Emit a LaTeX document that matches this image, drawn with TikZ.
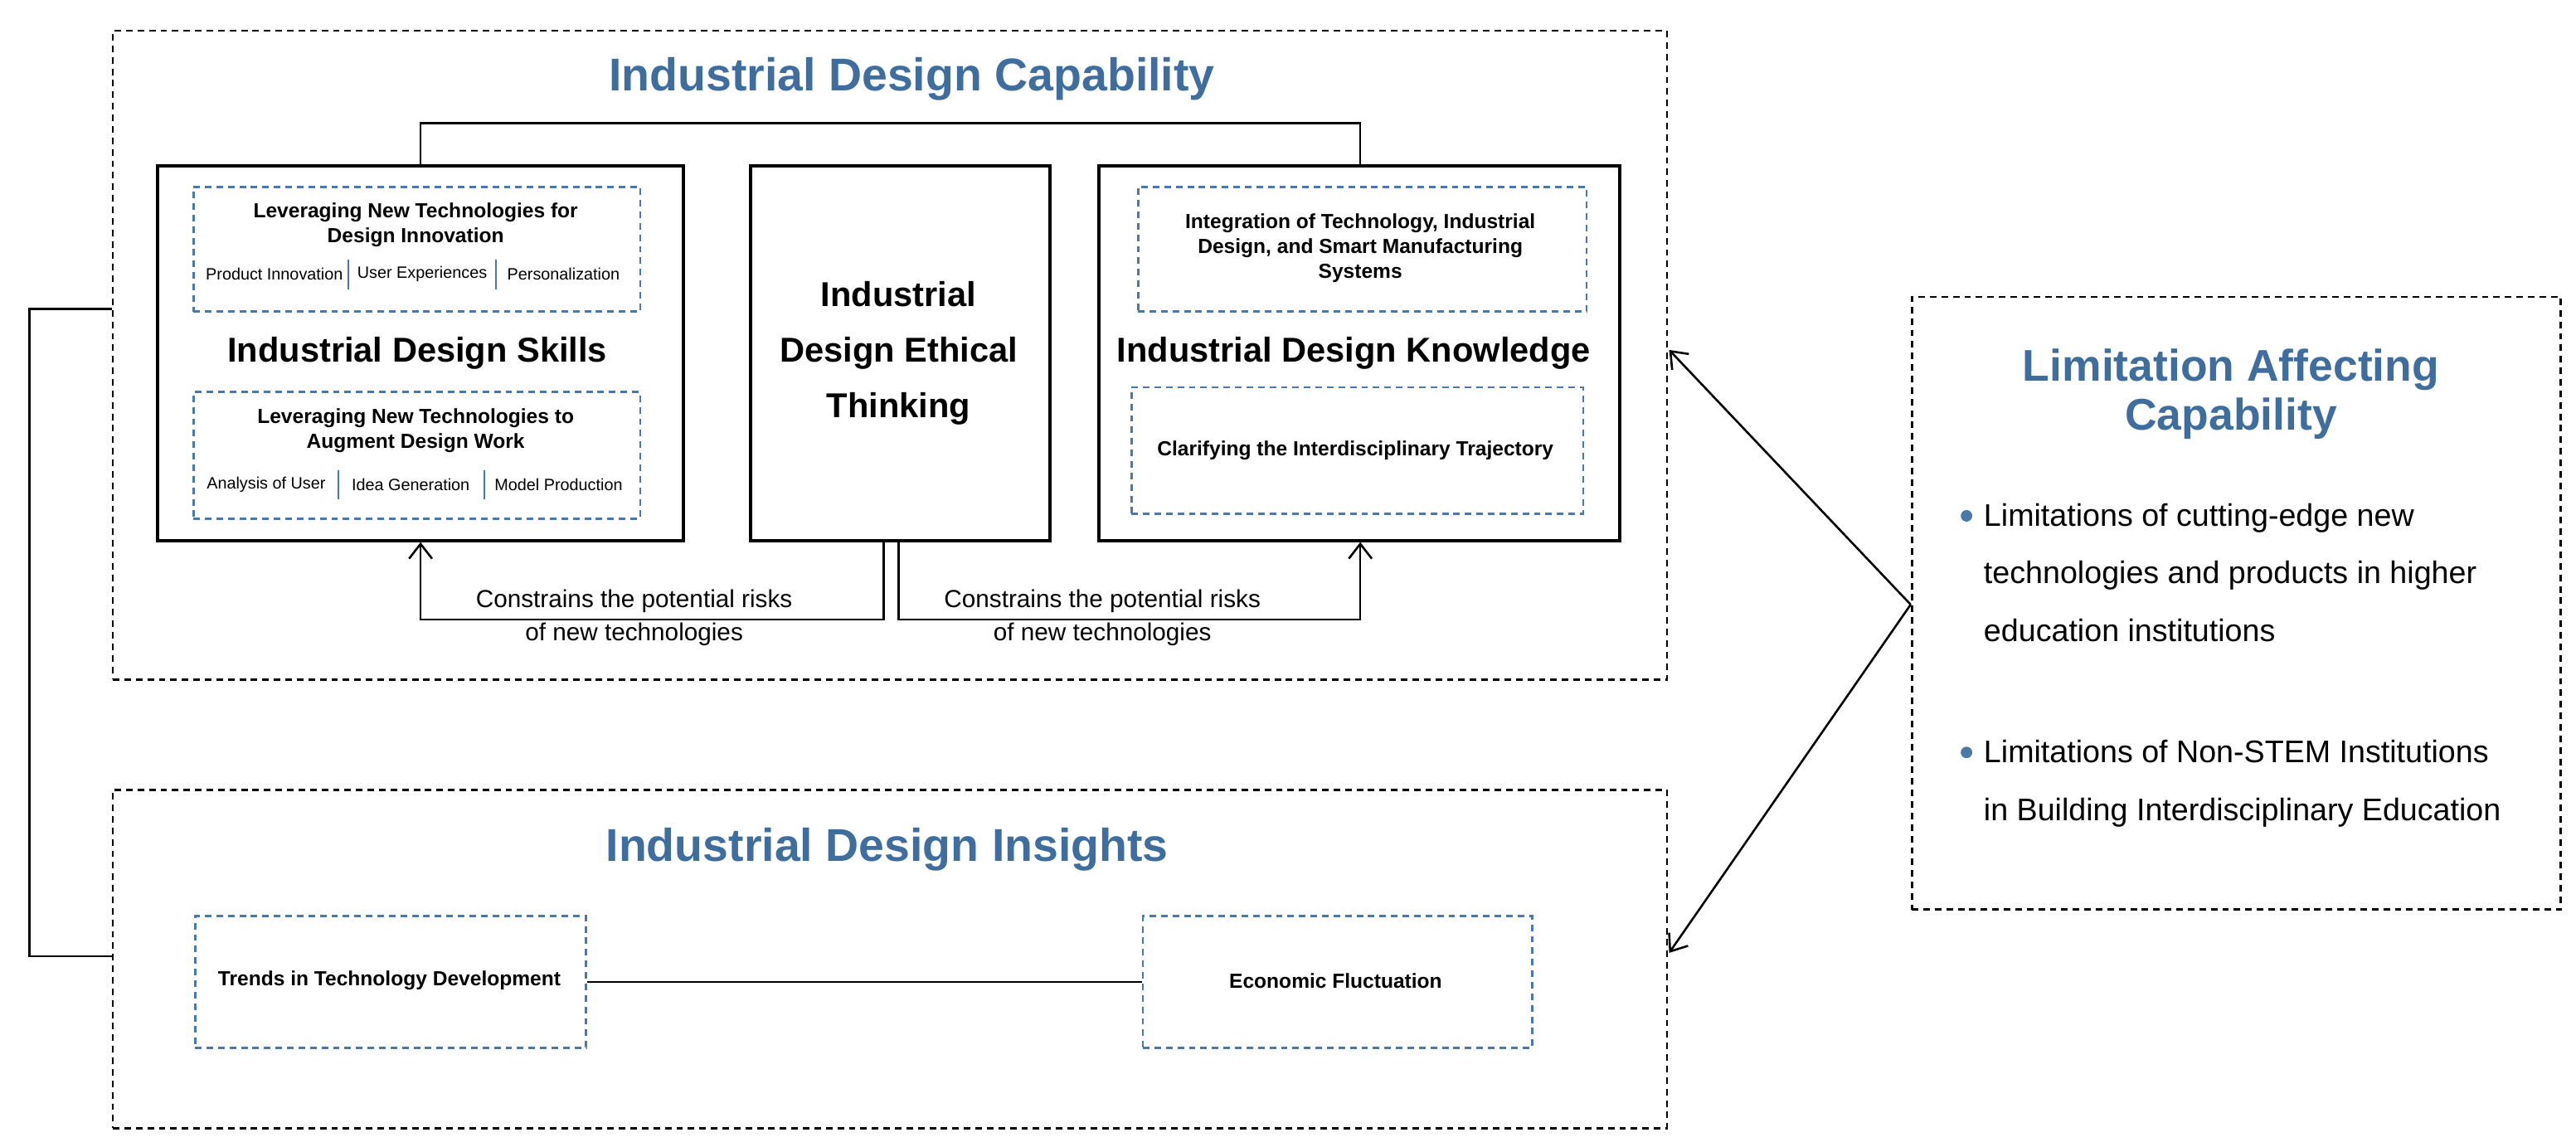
\documentclass[tikz,border=0pt]{standalone}
\usepackage{fontspec}
\setmainfont{Liberation Sans}
\usetikzlibrary{arrows.meta}
\definecolor{tblue}{HTML}{3F6E9E}
\definecolor{dblue}{HTML}{4A78A8}
\begin{document}
\begin{tikzpicture}[x=1pt,y=-1pt,
 outer/.style={draw=black,line width=1.4pt,dash pattern=on 4pt off 3pt},
 solidbox/.style={draw=black,line width=2pt},
 inner/.style={draw=dblue,line width=1.4pt,dash pattern=on 4pt off 3pt},
 ttl/.style={text=tblue,font=\fontsize{28}{30}\selectfont\bfseries,align=center},
 btl/.style={font=\fontsize{21}{34}\selectfont\bfseries,align=center},
 hdr/.style={font=\fontsize{12.4}{15}\selectfont\bfseries,align=center},
 sub/.style={font=\fontsize{10}{12}\selectfont},
 lbl/.style={font=\fontsize{15}{20}\selectfont,align=center},
 con/.style={line width=1.3pt},
 arr/.style={line width=1.3pt,-{Straight Barb[length=9pt,width=14pt]}},
 bul/.style={font=\fontsize{19}{35}\selectfont,align=left,anchor=north west}]
\useasboundingbox (0,0) rectangle (1568,698);
% outer boxes
\node[outer,minimum width=946pt,minimum height=395pt,anchor=north west] (cap) at (68,18) {};
\node[outer,minimum width=946pt,minimum height=206pt,anchor=north west] (ins) at (68,480) {};
\node[outer,minimum width=395pt,minimum height=373pt,anchor=north west] (lim) at (1163,180) {};
\node[ttl] (capt) at (555,48) {Industrial Design Capability};
\node[ttl] (inst) at (540,517) {Industrial Design Insights};
\node[ttl,font=\fontsize{27}{30}\selectfont\bfseries] (limt) at (1358,240) {Limitation Affecting\\Capability};
% three main boxes
\node[solidbox,minimum width=320pt,minimum height=228pt,anchor=north west] (skl) at (95,100) {};
\node[solidbox,minimum width=182pt,minimum height=228pt,anchor=north west] (eth) at (456,100) {};
\node[solidbox,minimum width=317pt,minimum height=228pt,anchor=north west] (kno) at (668,100) {};
\node[btl] at (254,215) {Industrial Design Skills};
\node[btl] at (547,215) {Industrial\\Design Ethical\\Thinking};
\node[btl] at (824,215) {Industrial Design Knowledge};
% inner dashed boxes
\node[inner,minimum width=272pt,minimum height=76pt,anchor=north west] (s1) at (117,113) {};
\node[hdr] at (253,137) {Leveraging New Technologies for\\Design Innovation};
\node[sub] at (167,167) {Product Innovation};
\node[sub] at (257,167) {User Experiences};
\node[sub] at (343,167) {Personalization};
\draw[dblue,line width=1pt] (212,158) -- (212,176) (302,158) -- (302,176);
\node[inner,minimum width=272pt,minimum height=77pt,anchor=north west] (s2) at (117,238) {};
\node[hdr] at (253,262) {Leveraging New Technologies to\\Augment Design Work};
\node[sub] at (162,295) {Analysis of User};
\node[sub] at (250,295) {Idea Generation};
\node[sub] at (340,295) {Model Production};
\draw[dblue,line width=1pt] (206,286) -- (206,304) (295,286) -- (295,304);
\node[inner,minimum width=273pt,minimum height=76pt,anchor=north west] (k1) at (692,113) {};
\node[hdr] at (828,151) {Integration of Technology, Industrial\\Design, and Smart Manufacturing\\Systems};
\node[inner,minimum width=275pt,minimum height=77pt,anchor=north west] (k2) at (688,235) {};
\node[hdr] at (825,274) {Clarifying the Interdisciplinary Trajectory};
% bracket
\draw[con] (256,100) -- (256,75) -- (828,75) -- (828,100);
% constraint arrows
\draw[arr] (538,328) -- (538,377) -- (256,377) -- (256,330);
\draw[arr] (547,328) -- (547,377) -- (828,377) -- (828,330);
\node[lbl] at (386,376) {Constrains the potential risks\\of new technologies};
\node[lbl] at (671,376) {Constrains the potential risks\\of new technologies};
% insights
\node[inner,minimum width=238pt,minimum height=80pt,anchor=north west] (t1) at (118,557) {};
\node[hdr] at (237,597) {Trends in Technology Development};
\node[inner,minimum width=237pt,minimum height=80pt,anchor=north west] (t2) at (695,557) {};
\node[hdr] at (813,597) {Economic Fluctuation};
\draw[con] (t1.east) -- (t2.west);
% left connector
\draw[con] (68,188) -- (18,188) -- (18,582) -- (68,582);
% limitation
\fill[dblue] (1197,314) circle (3.5pt);
\fill[dblue] (1197,458) circle (3.5pt);
\node[bul] at (1204,303) {Limitations of cutting-edge new\\technologies and products in higher\\education institutions};
\node[bul] at (1204,447) {Limitations of Non-STEM Institutions\\in Building Interdisciplinary Education};
\coordinate (lp) at (1163,368);
\draw[arr] (lp) -- (1016,213);
\draw[arr] (lp) -- (1016,580);
\end{tikzpicture}
\end{document}
